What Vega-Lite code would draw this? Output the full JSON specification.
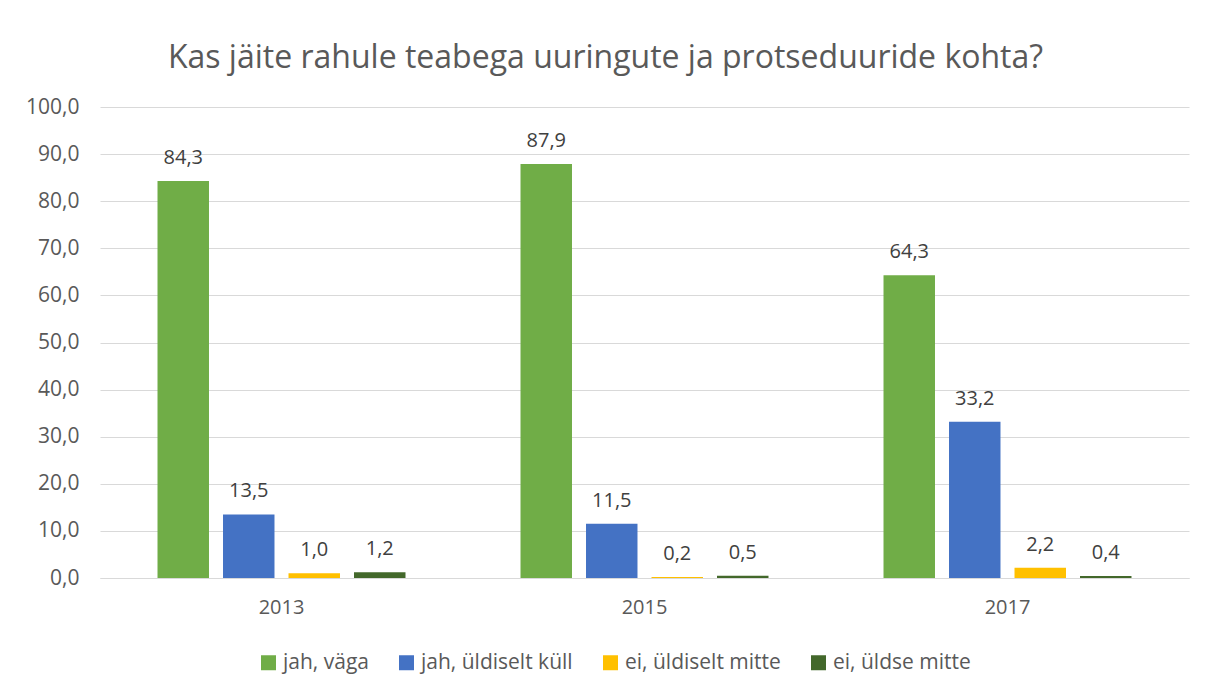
{
  "$schema": "https://vega.github.io/schema/vega-lite/v6.json",
  "autosize": {"type": "none"},
  "width": 1089,
  "height": 471,
  "padding": {"left": 100, "top": 107, "right": 20, "bottom": 115},
  "background": "white",
  "title": {
    "text": "Kas jäite rahule teabega uuringute ja protseduuride kohta?",
    "frame": "group",
    "anchor": "middle",
    "dx": -39,
    "offset": -4,
    "baseline": "alphabetic",
    "font": "Open Sans",
    "fontSize": 32,
    "fontWeight": "normal",
    "color": "#595959"
  },
  "data": {
    "values": [
      {"year": "2013", "answer": "jah, väga", "value": 84.3},
      {"year": "2013", "answer": "jah, üldiselt küll", "value": 13.5},
      {"year": "2013", "answer": "ei, üldiselt mitte", "value": 1.0},
      {"year": "2013", "answer": "ei, üldse mitte", "value": 1.2},
      {"year": "2015", "answer": "jah, väga", "value": 87.9},
      {"year": "2015", "answer": "jah, üldiselt küll", "value": 11.5},
      {"year": "2015", "answer": "ei, üldiselt mitte", "value": 0.2},
      {"year": "2015", "answer": "ei, üldse mitte", "value": 0.5},
      {"year": "2017", "answer": "jah, väga", "value": 64.3},
      {"year": "2017", "answer": "jah, üldiselt küll", "value": 33.2},
      {"year": "2017", "answer": "ei, üldiselt mitte", "value": 2.2},
      {"year": "2017", "answer": "ei, üldse mitte", "value": 0.4}
    ]
  },
  "encoding": {
    "x": {
      "field": "year", "type": "nominal",
      "scale": {"paddingInner": 0, "paddingOuter": 0},
      "axis": {
        "title": null, "labelAngle": 0, "ticks": false,
        "domainColor": "#d9d9d9", "labelPadding": 19,
        "labelFont": "Open Sans", "labelFontSize": 20, "labelColor": "#595959"
      }
    },
    "xOffset": {
      "field": "answer", "type": "nominal",
      "sort": ["jah, väga", "jah, üldiselt küll", "ei, üldiselt mitte", "ei, üldse mitte"],
      "scale": {"paddingInner": 0.214, "paddingOuter": 0.878}
    },
    "y": {
      "field": "value", "type": "quantitative",
      "scale": {"domain": [0, 100], "nice": false},
      "axis": {
        "title": null, "values": [0,10,20,30,40,50,60,70,80,90,100],
        "format": ".1f", "domain": false, "ticks": false,
        "gridColor": "#d9d9d9", "labelPadding": 21,
        "labelFont": "Open Sans", "labelFontSize": 21, "labelColor": "#595959"
      }
    }
  },
  "layer": [
    {
      "mark": {"type": "bar"},
      "encoding": {
        "color": {
          "field": "answer", "type": "nominal",
          "sort": ["jah, väga", "jah, üldiselt küll", "ei, üldiselt mitte", "ei, üldse mitte"],
          "scale": {
            "domain": ["jah, väga", "jah, üldiselt küll", "ei, üldiselt mitte", "ei, üldse mitte"],
            "range": ["#70AD47", "#4472C4", "#FFC000", "#43682B"]
          },
          "legend": {
            "title": null, "orient": "none", "direction": "horizontal",
            "legendX": 158, "legendY": 545,
            "symbolType": "square", "symbolSize": 225, "symbolStrokeWidth": 0,
            "labelFont": "Open Sans", "labelFontSize": 21, "labelColor": "#595959",
            "labelOffset": 4, "columnPadding": 27
          }
        }
      }
    },
    {
      "mark": {"type": "text", "baseline": "alphabetic", "dy": -17, "font": "Open Sans", "fontSize": 20, "color": "#404040"},
      "encoding": {
        "text": {"field": "value", "type": "quantitative", "format": ".1f"}
      }
    }
  ],
  "config": {
    "locale": {
      "number": {"decimal": ",", "thousands": " ", "grouping": [3], "currency": ["", " €"]}
    },
    "view": {"stroke": null}
  }
}
